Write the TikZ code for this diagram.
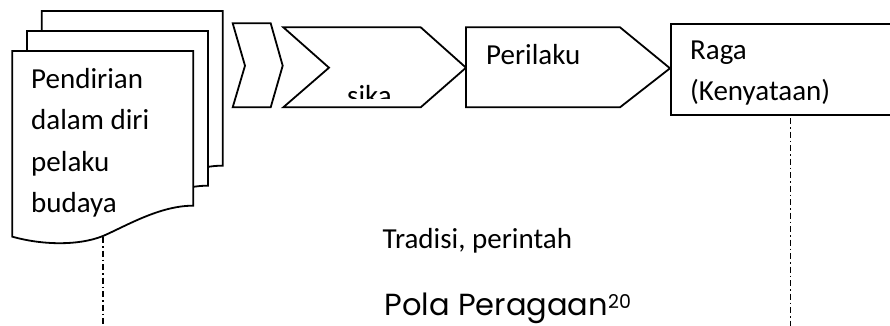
\documentclass[tikz,border=0pt]{standalone}
\usepackage{fontspec}
\setmainfont{Carlito}
\newfontfamily\polafont{Poppins}
\begin{document}
\begin{tikzpicture}[x=1pt,y=-1pt,
    bentuk/.style={draw,fill=white,line width=1.8pt},
    teks/.style={inner sep=0pt,anchor=base west,font=\fontsize{29}{34}\selectfont},
    putus/.style={line width=1.3pt,dash pattern=on 6pt off 3pt on 1.5pt off 3pt}]
        \useasboundingbox (0,0) rectangle (890,326);
        \clip (0,0) rectangle (890,326);

        % Tumpukan dokumen
        \foreach \dx/\dy in {29.4/-40,14.7/-20,0/0}
          \draw[bentuk,shift={(\dx,\dy)}] (12.3,51) -- (193.3,51) -- (193.3,205.7)
            .. controls (160,205.5) and (126,226) .. (103,236)
            .. controls (78,246) and (42,245) .. (12.3,236.7) -- cycle;
        \coordinate (ujungdok) at (103,237);
        \foreach \t [count=\i] in {Pendirian,dalam diri,pelaku,budaya}
          \node[teks] (doc\i) at (31,{88.3+41.5*(\i-1)}) {\t};

        % Panah proses
        \draw[bentuk] (232.7,23.3) -- (270.7,23.3) -- (282.7,65.7) -- (270.7,107.3)
          -- (232.7,107.3) -- (245,65.7) -- cycle;
        \draw[bentuk] (283.3,27.3) -- (420.7,27.3) -- (466,67.7) -- (420.7,107.3)
          -- (283.3,107.3) -- (329,67.7) -- cycle;
        \begin{scope}
          \clip (330,20) rectangle (420,99);
          \node[teks] (sikap) at (347,105.8) {sika};
        \end{scope}
        \draw[bentuk] (466,27.3) -- (620,27.3) -- (670,68.3) -- (620,107.3)
          -- (466,107.3) -- cycle;
        \node[teks] (perilaku) at (486,65) {Perilaku};

        % Kotak raga
        \draw[bentuk] (895,24) -- (670.7,24) -- (670.7,115) -- (895,115);
        \node[teks] (raga) at (690,60) {Raga};
        \node[teks] (nyata) at (690,100.7) {(Kenyataan)};
        \coordinate (ujungraga) at (790.7,118);

        % Garis putus-putus
        \coordinate (bawahkiri) at (103,326);
        \coordinate (bawahkanan) at (790.7,326);
        \draw[putus] (ujungdok) -- (bawahkiri);
        \draw[putus] (ujungraga) -- (bawahkanan);

        % Keterangan
        \node[teks] (tradisi) at (382.5,248) {Tradisi, perintah};
        \node[teks,font=\polafont\fontsize{30.5}{36}\selectfont] (pola) at (384.5,315.5)
          {Pola Peragaan\raisebox{7pt}{\fontsize{19}{20}\selectfont 20}};
\end{tikzpicture}
\end{document}
